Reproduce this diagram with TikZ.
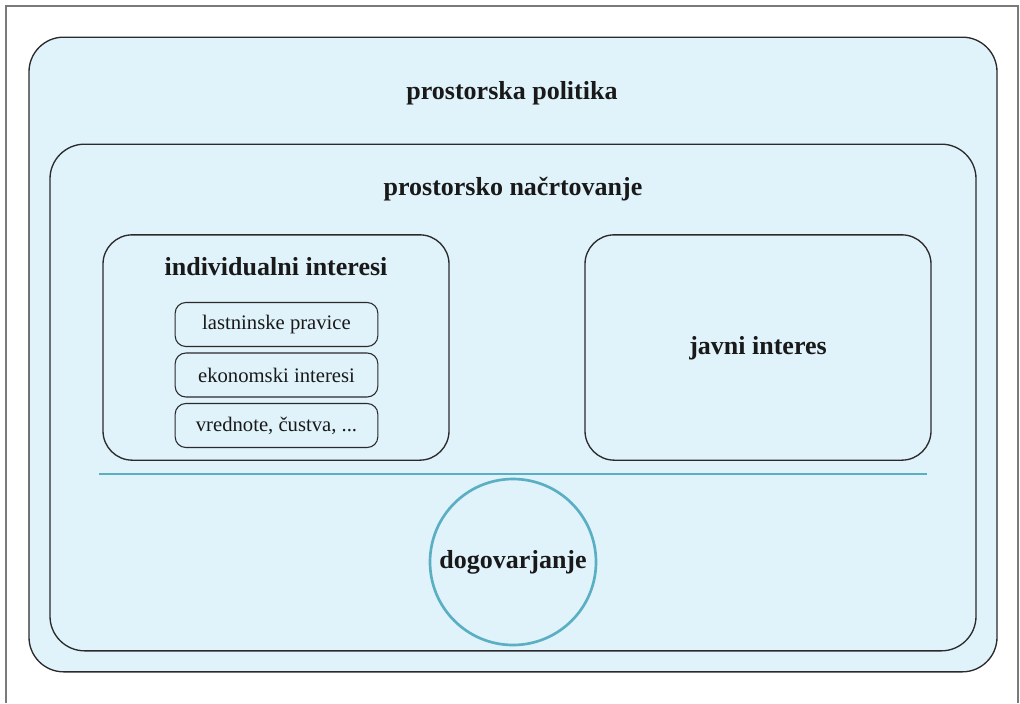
\documentclass[tikz,border=0pt]{standalone}
\usepackage{fontspec}
\setmainfont{Liberation Serif}
\definecolor{fillblue}{HTML}{E0F2FA}
\definecolor{teal}{HTML}{5AAFC3}
\definecolor{framegray}{HTML}{7A7A7A}
\definecolor{edge}{HTML}{2A2A2A}
\begin{document}
\begin{tikzpicture}[x=0.75pt,y=-0.75pt,
  box/.style={draw=edge,line width=1pt,fill=fillblue,rounded corners=#1,inner sep=0pt},
  box/.default=26pt,
  title/.style={font=\bfseries\fontsize{19.5}{23}\selectfont,text=black!90,inner sep=0pt},
  small/.style={draw=edge,line width=0.8pt,fill=fillblue,rounded corners=8pt,inner sep=0pt,
     minimum width=152pt,minimum height=33pt,font=\fontsize{15.5}{18}\selectfont,text=black!90}]
\useasboundingbox (0,0) rectangle (1020,703);
\fill[white] (0,0) rectangle (1020,703);
\draw[framegray,line width=1.5pt] (6,703) -- (6,6) -- (1018,6) -- (1018,703);
% outer box
\node[box=26pt,minimum width=726pt,minimum height=476pt] (outer) at (513,354.5) {};
\node[title] (tpol) at (512,93) {prostorska politika};
% inner box
\node[box=26pt,minimum width=694.5pt,minimum height=380pt] (inner) at (513,397.5) {};
\node[title] (tnac) at (513,189) {prostorsko načrtovanje};
% individual
\node[box=22pt,minimum width=259.5pt,minimum height=169pt] (indiv) at (276,347.5) {};
\node[title] (tind) at (276,267) {individualni interesi};
\node[small] (s1) at (276.5,324.5) {lastninske pravice};
\node[small] (s2) at (276.5,375) {ekonomski interesi};
\node[small] (s3) at (276.5,425.5) {vrednote, čustva, ...};
% public
\node[box=22pt,minimum width=259.5pt,minimum height=169pt] (javni) at (758,347.5) {};
\node[title] (tjav) at (758,348) {javni interes};
% line
\coordinate (la) at (99,474);
\coordinate (lb) at (927,474);
\draw[teal,line width=2.2pt] (la) -- (lb);
% circle
\node[circle,draw=teal,line width=2pt,minimum size=124.5pt,inner sep=0pt,title] (dog) at (513,562) {dogovarjanje};
\end{tikzpicture}
\end{document}
